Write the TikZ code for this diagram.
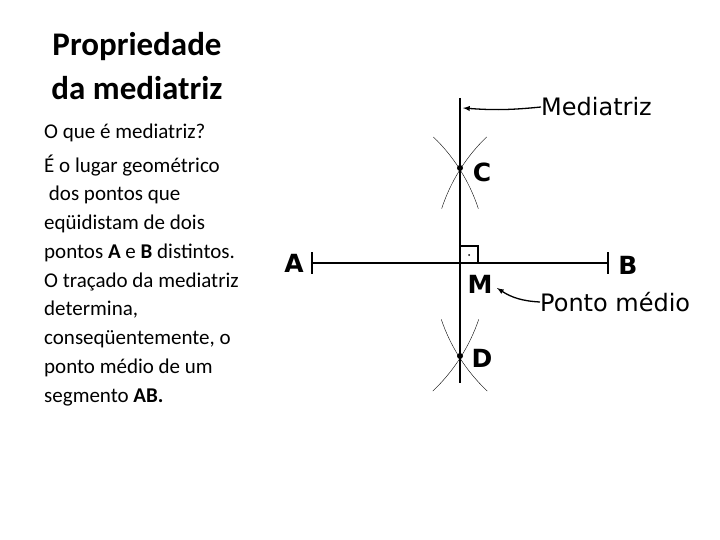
\documentclass[tikz,border=0pt]{standalone}
\usepackage{fontspec}
\setmainfont{Carlito}
\newfontfamily\fig{DejaVu Sans}
\begin{document}
\begin{tikzpicture}[x=1pt,y=-1pt,
  body/.style={anchor=west,inner sep=0pt,font=\fontsize{21}{24}\selectfont},
  lab/.style={inner sep=0pt,font=\fig\bfseries\fontsize{25}{27}\selectfont},
  note/.style={inner sep=0pt,anchor=west,font=\fig\fontsize{24}{26}\selectfont},
  arcl/.style={thin}]
\useasboundingbox (0,0) rectangle (720,540);
\node[inner sep=0pt,align=center,font=\bfseries\fontsize{33}{44}\selectfont] (title) at (137,66) {Propriedade\\da mediatriz};
\node[body] (l1) at (44,133) {O que é mediatriz?};
\node[body] (l2) at (44,166) {É o lugar geométrico};
\node[body] (l3) at (44,195) {\ dos pontos que};
\node[body] (l4) at (44,224) {eqüidistam de dois};
\node[body] (l5) at (44,253) {pontos \textbf{A} e \textbf{B} distintos.};
\node[body] (l6) at (44,282) {O traçado da mediatriz};
\node[body] (l7) at (44,310) {determina,};
\node[body] (l8) at (44,339) {conseqüentemente, o};
\node[body] (l9) at (44,368) {ponto médio de um};
\node[body] (l10) at (44,397) {segmento \textbf{AB.}};
% geometry
\coordinate (Ae) at (312,263);
\coordinate (Be) at (608,263);
\coordinate (T) at (460,98);
\coordinate (Bo) at (460,383);
\coordinate (Cp) at (460,168);
\coordinate (Dp) at (460,356);
\draw[line width=2.2pt] (T) -- (Bo);
\draw[line width=2.2pt] (Ae) -- (Be);
\draw[line width=2pt] (312,252) -- (312,274);
\draw[line width=2pt] (608,252) -- (608,274);
\draw[line width=1.2pt] (460,263) rectangle (478,246);
\fill (469,255) circle (1pt);
\fill (Cp) circle (3pt);
\fill (Dp) circle (3pt);
\draw[arcl] (Ae) ++(32.7:176) arc[start angle=32.7,delta angle=14,radius=176];
\draw[arcl] (Ae) ++(32.7:176) arc[start angle=32.7,delta angle=-14,radius=176];
\draw[arcl] (Be) ++(147.3:176) arc[start angle=147.3,delta angle=14,radius=176];
\draw[arcl] (Be) ++(147.3:176) arc[start angle=147.3,delta angle=-14,radius=176];
\draw[arcl] (Ae) ++(-32.1:175) arc[start angle=-32.1,delta angle=14,radius=175];
\draw[arcl] (Ae) ++(-32.1:175) arc[start angle=-32.1,delta angle=-14,radius=175];
\draw[arcl] (Be) ++(-147.9:175) arc[start angle=-147.9,delta angle=14,radius=175];
\draw[arcl] (Be) ++(-147.9:175) arc[start angle=-147.9,delta angle=-14,radius=175];
\node[lab] (A) at (294,263) {A};
\node[lab] (B) at (628,265) {B};
\node[lab] (C) at (482,172) {C};
\node[lab] (D) at (482,358) {D};
\node[lab] (M) at (480,284) {M};
\node[note] (med) at (541,107) {Mediatriz};
\node[note] (pm) at (540,302) {Ponto médio};
\coordinate (mt) at (463,108);
\coordinate (mm) at (497,288);
\draw[line width=1.3pt,-latex] (med.west) to[bend left=5] (mt);
\draw[line width=1.3pt,-latex] (pm.west) to[bend left=15] (mm);
\end{tikzpicture}
\end{document}
